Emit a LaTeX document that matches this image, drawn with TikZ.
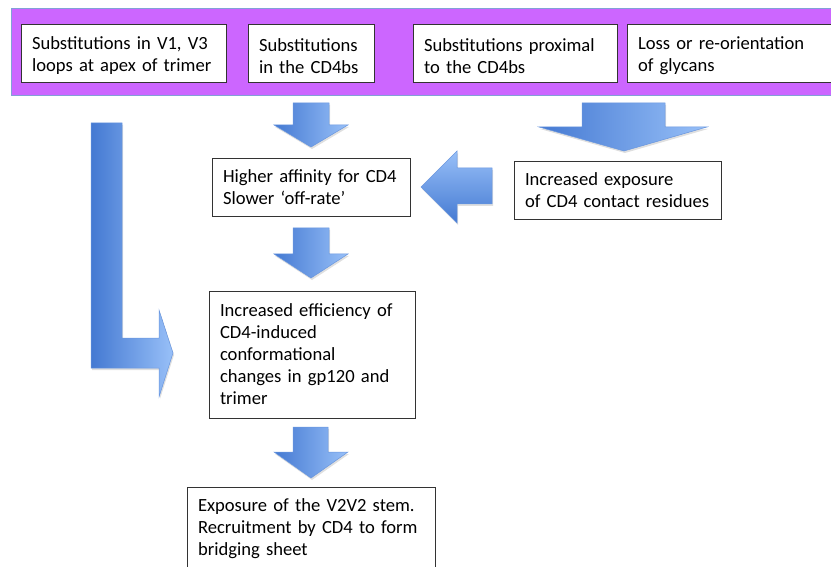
\documentclass[tikz,border=0pt]{standalone}
\usepackage{fontspec}
\setmainfont{Carlito}
\usetikzlibrary{shadows}

\definecolor{bandpurple}{RGB}{204,102,255}
\definecolor{bandedge}{RGB}{130,160,215}
\definecolor{arrowdark}{RGB}{68,121,210}
\definecolor{arrowlight}{RGB}{152,192,248}
\definecolor{arrowedge}{RGB}{105,150,222}

\tikzset{
  stepbox/.style={draw=black!80, line width=0.9pt, fill=white, align=left,
    inner xsep=11pt, inner ysep=3pt, font=\fontsize{18.6}{22}\selectfont},
  topbox/.style={stepbox, minimum height=58pt, text height=19pt},
  blockarrow/.style={draw=arrowedge, line width=0.5pt,
    drop shadow={opacity=0.25, shadow xshift=1pt, shadow yshift=-2pt}},
  sidewise/.style={blockarrow, left color=arrowdark, right color=arrowlight},
  upwise/.style={blockarrow, bottom color=arrowdark, top color=arrowlight},
}

\begin{document}
\begin{tikzpicture}[x=1pt, y=-1pt]
		\useasboundingbox (0,0) rectangle (831,567);
		
		%%%%% TOP BAND %%%%%
		\draw[bandedge, fill=bandpurple, line width=0.8pt] (11,8) rectangle (845,95);
		
		\node[topbox, text width=183pt] (loops) at (123.5,53) {Substitutions in V1, V3\\loops at apex of trimer};
		\node[topbox, text width=104pt] (bs) at (311,53) {Substitutions\\in the CD4bs};
		\node[topbox, text width=182pt] (proximal) at (515,53) {Substitutions proximal\\to the CD4bs};
		\node[topbox, text width=191pt] (glycans) at (733.5,53) {Loss or re-orientation\\of glycans};
		
		%%%%% BOXES %%%%%
		\node[stepbox, text width=176pt, minimum height=58pt] (affinity) at (311,187) {Higher affinity for CD4\\Slower `off-rate'};
		\node[stepbox, text width=185pt, minimum height=58pt] (contact) at (617.5,190) {Increased exposure\\of CD4 contact residues};
		\node[stepbox, text width=184pt, minimum height=127pt] (efficiency) at (312,354.5) {Increased efficiency of\\CD4-induced\\conformational\\changes in gp120 and\\trimer};
		\node[stepbox, text width=226pt, minimum height=84pt] (stem) at (311,529) {Exposure of the V2V2 stem.\\Recruitment by CD4 to form\\bridging sheet};
		
		%%%%% ARROWS %%%%%
		\shade[sidewise] (293,103) -- (329,103) -- (329,125) -- (348,125) -- (311,147) -- (274,125) -- (293,125) -- cycle;
		\shade[sidewise] (293,228) -- (329,228) -- (329,254) -- (348,254) -- (311,278) -- (274,254) -- (293,254) -- cycle;
		\shade[sidewise] (293,427) -- (328,427) -- (328,452) -- (348,452) -- (311,478) -- (274,452) -- (293,452) -- cycle;
		\shade[sidewise] (582,103) -- (665,103) -- (665,127) -- (707,127) -- (624,151) -- (539,127) -- (582,127) -- cycle;
		\shade[upwise] (492,168) -- (457,168) -- (457,151) -- (421,187) -- (457,223) -- (457,204) -- (492,204) -- cycle;
		\shade[sidewise] (91,123) -- (122,123) -- (122,338) -- (159,338) -- (159,310) -- (173,353) -- (159,397) -- (159,368) -- (91,368) -- cycle;
	\end{tikzpicture}
\end{document}
